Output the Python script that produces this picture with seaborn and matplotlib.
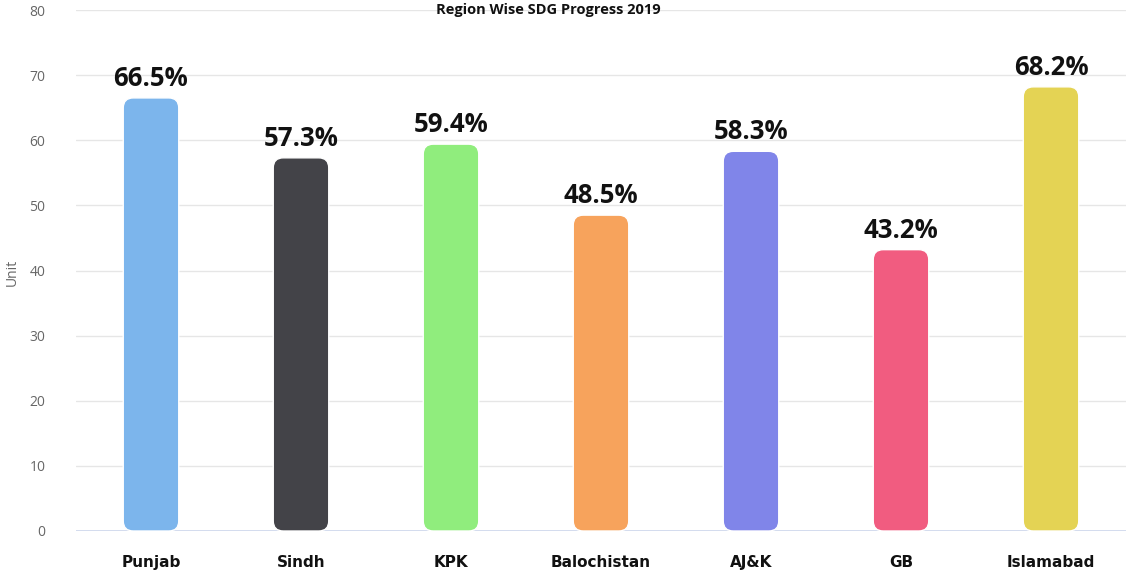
import numpy as np
import pandas as pd
import matplotlib
matplotlib.use("Agg")
import matplotlib.pyplot as plt
import seaborn as sns
from matplotlib.patches import FancyBboxPatch

# data
regions = ["Punjab", "Sindh", "KPK", "Balochistan", "AJ&K", "GB", "Islamabad"]
progress = [66.5, 57.3, 59.4, 48.5, 58.3, 43.2, 68.2]
colors = ["#7cb5ec", "#434348", "#90ed7d", "#f7a35c", "#8085e9", "#f15c80", "#e4d354"]

df = pd.DataFrame({"region": regions, "progress": progress})

sns.set_style("white")
plt.rcParams['font.family'] = ['Open Sans', 'DejaVu Sans']

fig = plt.figure(figsize=(11.29, 5.74), dpi=100)
ax = fig.add_axes([76 / 1129, 1 - 531 / 574, 1050 / 1129, 521 / 574])

sns.barplot(data=df, x="region", y="progress", hue="region", palette=colors,
            saturation=1, width=0.37, legend=False, ax=ax, zorder=3)

ax.set_ylim(0, 80)
ax.set_xlim(-0.5, len(regions) - 0.5)

# swap square bars for rounded ones (highcharts look)
px_x = 1050 / len(regions)
px_y = 521 / 80
r_px = 10
for p in list(ax.patches):
    x0, y0 = p.get_x(), p.get_y()
    w, h = p.get_width(), p.get_height()
    fc = p.get_facecolor()
    p.remove()
    rb = FancyBboxPatch((x0, y0), w, h,
                        boxstyle=f"round,pad=0,rounding_size={r_px / px_x}",
                        mutation_aspect=px_x / px_y,
                        facecolor=fc, edgecolor="white", linewidth=1, zorder=3)
    ax.add_patch(rb)

# value labels
for i, v in enumerate(progress):
    ax.text(i, v + 6 / px_y, f"{v}%", ha="center", va="bottom",
            fontsize=18.5, fontweight="bold", color="#111111", zorder=4)

# grid
for yv in range(10, 81, 10):
    ax.axhline(yv, color="#e6e6e6", linewidth=1, zorder=1)
ax.axhline(0, color="#ccd6eb", linewidth=1.2, zorder=2)

for s in ax.spines.values():
    s.set_visible(False)

ax.set_yticks(range(0, 81, 10))
ax.tick_params(axis="y", length=0, pad=22, labelsize=10, labelcolor="#666666")
ax.tick_params(axis="x", length=0, pad=17)
for lbl in ax.get_xticklabels():
    lbl.set_fontfamily("DejaVu Sans")
    lbl.set_fontweight("bold")
    lbl.set_fontsize(11)
    lbl.set_color("#111111")

ax.set_xlabel("")
ax.set_ylabel("")
fig.text(12 / 1129, 1 - 272 / 574, "Unit", rotation=90, ha="center", va="center",
         fontsize=10, color="#666666")

fig.text(548 / 1129, 1 - 10 / 574, "Region Wise SDG Progress 2019", ha="center",
         va="center", fontsize=10.5, fontweight="bold", color="#111111")

fig.savefig("out.png", dpi=100)
